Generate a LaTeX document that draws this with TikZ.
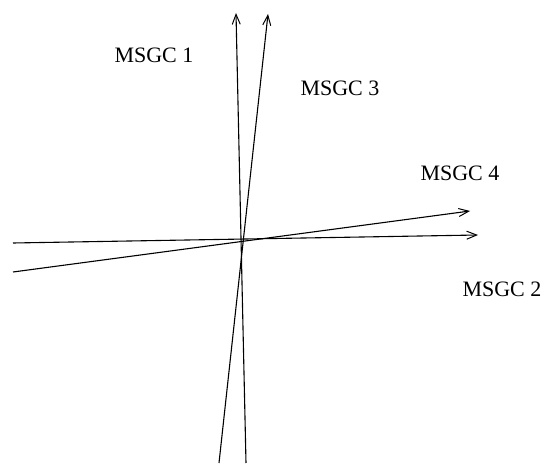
\documentclass[tikz,border=0pt]{standalone}
\usepackage{fontspec}
\setmainfont{Liberation Serif}
\usetikzlibrary{arrows.meta}
\begin{document}
\begin{tikzpicture}[x=1pt,y=-1pt,
  axis/.style={line width=1.1pt,-{Straight Barb[length=10pt,width=8pt,line width=1pt]}},
  lbl/.style={font=\fontsize{22}{24}\selectfont,inner sep=0pt}]
\useasboundingbox (0,0) rectangle (544,465);
% end points
\coordinate (a0) at (246,463);
\coordinate (a1) at (236,13);
\coordinate (b0) at (219,463);
\coordinate (b1) at (268,14);
\coordinate (c0) at (13,243);
\coordinate (c1) at (478,235);
\coordinate (d0) at (13,272);
\coordinate (d1) at (470,211);
\draw[axis] (a0) -- (a1);
\draw[axis] (b0) -- (b1);
\draw[axis] (c0) -- (c1);
\draw[axis] (d0) -- (d1);
\node[lbl] (l1) at (154,55) {MSGC 1};
\node[lbl] (l3) at (340,88) {MSGC 3};
\node[lbl] (l4) at (460,173) {MSGC 4};
\node[lbl] (l2) at (502,289) {MSGC 2};
\end{tikzpicture}
\end{document}
